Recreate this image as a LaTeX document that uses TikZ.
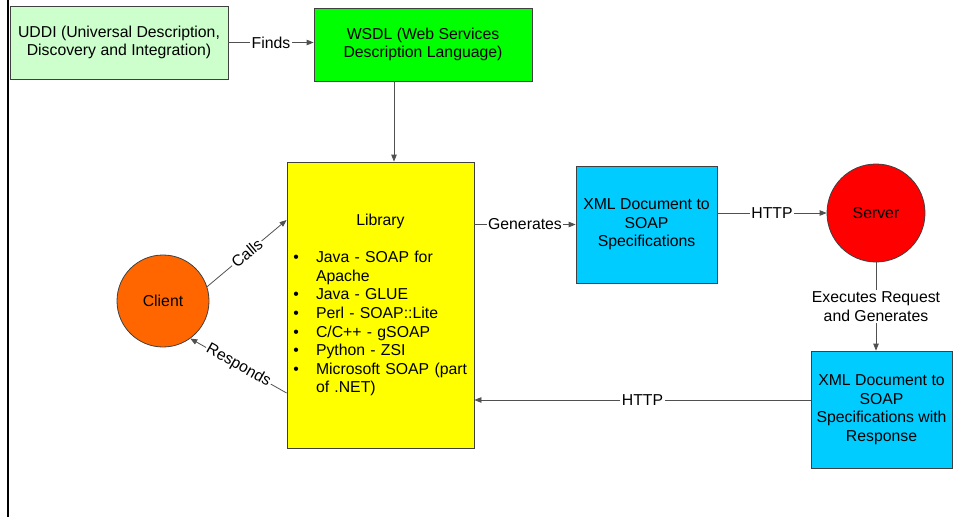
\documentclass[tikz,border=0pt]{standalone}
\usepackage{fontspec}
\setmainfont{Liberation Sans}
\usetikzlibrary{arrows.meta}

\definecolor{uddigreen}{HTML}{CCFFCC}
\definecolor{wsdlgreen}{HTML}{00FF00}
\definecolor{libyellow}{HTML}{FFFF00}
\definecolor{clientorange}{HTML}{FF6600}
\definecolor{xmlblue}{HTML}{00CCFF}
\definecolor{serverred}{HTML}{FF0000}
\definecolor{edgegray}{HTML}{404040}
\definecolor{linkgray}{HTML}{505050}

\newcommand{\diagfont}{\fontsize{15.8}{18.6}\selectfont}

\begin{document}
\begin{tikzpicture}[x=1pt,y=-1pt,
  every node/.style={font=\diagfont},
  box/.style={draw=edgegray, line width=0.8pt, rectangle, align=center, inner sep=3pt},
  blob/.style={draw=edgegray, line width=0.8pt, circle, inner sep=0pt},
  link/.style={draw=linkgray, line width=0.8pt, -{Triangle[length=7pt,width=5.5pt]}},
  tag/.style={fill=white, inner sep=1.5pt}
]
  \useasboundingbox (0,0) rectangle (954,517);

  % left margin rule
  \draw[line width=2.6pt] (8,0) -- (8,517);

  % boxes
  \node[box, fill=uddigreen, minimum width=218pt, minimum height=73pt] (uddi) at (119,42.5)
    {UDDI (Universal Description,\\Discovery and Integration)};
  \node[box, fill=wsdlgreen, minimum width=218pt, minimum height=73pt] (wsdl) at (423,44.5)
    {WSDL (Web Services\\Description Language)};
  \node[box, fill=libyellow, text width=175pt, inner xsep=6pt, minimum height=286pt, align=left] (lib) at (380.5,305)
    {{\centering Library\par}\vspace{19pt}%
     \begin{list}{\textbullet}{\leftmargin=23pt \labelwidth=6pt \labelsep=17pt
       \topsep=0pt \partopsep=0pt \parsep=0pt \itemsep=0pt}\raggedright
       \item Java - SOAP for\\Apache
       \item Java - GLUE
       \item Perl - SOAP::Lite
       \item C/C++ - gSOAP
       \item Python - ZSI
       \item Microsoft SOAP (part\\of .NET)
     \end{list}};
  \node[blob, fill=clientorange, minimum size=92pt] (client) at (163,301) {Client};
  \node[box, fill=xmlblue, minimum width=141pt, minimum height=117pt] (xml1) at (646.5,224.5)
    {XML Document to\\SOAP\\Specifications};
  \node[blob, fill=serverred, minimum size=98pt] (server) at (876,213) {Server};
  \node[box, fill=xmlblue, minimum width=141pt, minimum height=117pt] (xml2) at (881.5,409.5)
    {XML Document to\\SOAP\\Specifications with\\Response};

  % connectors
  \draw[link] (uddi.east) -- node[tag] {Finds} (uddi.east -| wsdl.west);
  \draw[link] ([xshift=-29pt]wsdl.south) -- ([xshift=-29pt]wsdl.south |- lib.north);
  \draw[link] (lib.east |- xml1.west) -- node[tag] {Generates} (xml1.west);
  \draw[link] (xml1.east |- server.west) -- node[tag] {HTTP} (server.west);
  \draw[link] (server.south) -- node[tag, align=center] {Executes Request\\and Generates} (server.south |- xml2.north);
  \draw[link] ([yshift=9.5pt]xml2.west) -- node[tag] {HTTP} ([yshift=9.5pt]xml2.west -| lib.east);
  \draw[link] (client.18) -- node[tag, sloped] {Calls} ([yshift=85pt]lib.west);
  \draw[link] ([yshift=-88pt]lib.west) -- node[tag, sloped] {Responds} (client.-54);
\end{tikzpicture}
\end{document}
